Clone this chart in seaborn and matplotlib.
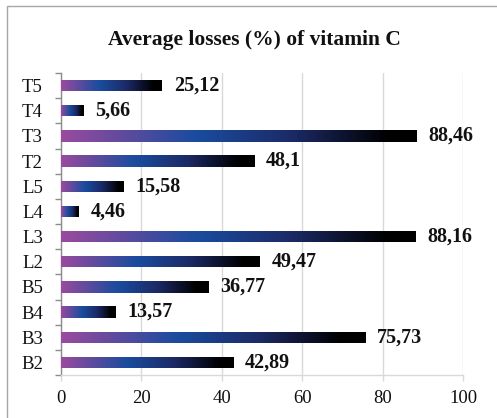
import numpy as np
import pandas as pd
import matplotlib
matplotlib.use("Agg")
import matplotlib.pyplot as plt
from matplotlib.colors import LinearSegmentedColormap
from matplotlib.patches import Rectangle
import seaborn as sns

categories = ["T5", "T4", "T3", "T2", "L5", "L4", "L3", "L2", "B5", "B4", "B3", "B2"]
values = [25.12, 5.66, 88.46, 48.1, 15.58, 4.46, 88.16, 49.47, 36.77, 13.57, 75.73, 42.89]
labels = ["25,12", "5,66", "88,46", "48,1", "15,58", "4,46", "88,16", "49,47", "36,77", "13,57", "75,73", "42,89"]
xticks = [0, 20, 40, 60, 80, 100]

sns.set_theme(style="white")
plt.rcParams["font.family"] = ["Liberation Serif", "DejaVu Serif"]

df = pd.DataFrame({"cat": categories, "val": values})

fig = plt.figure(figsize=(4.97, 4.18), dpi=100)
ax = fig.add_axes([61/497, 1-375/418, (463-61)/497, (375-73)/418])

sns.barplot(data=df, x="val", y="cat", orient="h", ax=ax, width=0.45,
            color="#1a4a9f", edgecolor="none", zorder=3)

cmap = LinearSegmentedColormap.from_list(
    "grad", [(0.0, "#9a4a9e"), (0.38, "#1a4c9f"), (0.65, "#1c2a66"), (0.92, "#000000"), (1.0, "#000000")])
grad = np.linspace(0, 1, 256).reshape(1, -1)
for p in ax.patches:
    x0, y0 = p.get_x(), p.get_y()
    w, h = p.get_width(), p.get_height()
    p.set_facecolor("none")
    im = ax.imshow(grad, cmap=cmap, aspect="auto", extent=[x0, x0 + w, y0 + h, y0],
                   zorder=4, interpolation="bilinear")
    im.set_clip_path(p)

for i, (v, lab) in enumerate(zip(values, labels)):
    ax.annotate(lab, xy=(v, i), xytext=(8.5, 0), textcoords="offset points",
                va="center", ha="left", fontsize=14.5, fontweight="bold", color="#111111")

ax.set_xlim(0, 100)
ax.set_ylim(len(categories) - 0.5, -0.5)
ax.set_xticks(xticks)
ax.set_xticklabels([str(t) for t in xticks])
ax.set_xlabel("")
ax.set_ylabel("")
ax.xaxis.grid(True, color="#d9d9d9", lw=1, zorder=0)
ax.set_axisbelow(True)

ax.set_yticks(range(len(categories)))
ax.set_yticks(np.arange(-0.5, len(categories), 1), minor=True)
ax.tick_params(axis="y", which="major", length=0, pad=13, labelsize=13.5, labelcolor="#111111")
ax.tick_params(axis="y", which="minor", length=4.5, width=1, color="#8c8c8c", direction="out", left=True)
ax.tick_params(axis="x", which="major", length=4, width=1, color="#d9d9d9", direction="out",
               bottom=True, pad=7, labelsize=13.5, labelcolor="#111111")

for s in ["top", "right"]:
    ax.spines[s].set_visible(False)
ax.spines["left"].set_color("#8c8c8c")
ax.spines["left"].set_linewidth(1)
ax.spines["bottom"].set_color("#d9d9d9")
ax.spines["bottom"].set_linewidth(1)

fig.text(254/497, 1-40/418, "Average losses (%) of vitamin C", ha="center", va="center",
         fontsize=15.5, fontweight="bold", color="#111111")

fig.patches.append(Rectangle((7/497, -0.05), 1.1, 1-6/418+0.05, transform=fig.transFigure,
                             fill=False, edgecolor="#a6a6a6", lw=1))

fig.savefig("out.png", dpi=100)
